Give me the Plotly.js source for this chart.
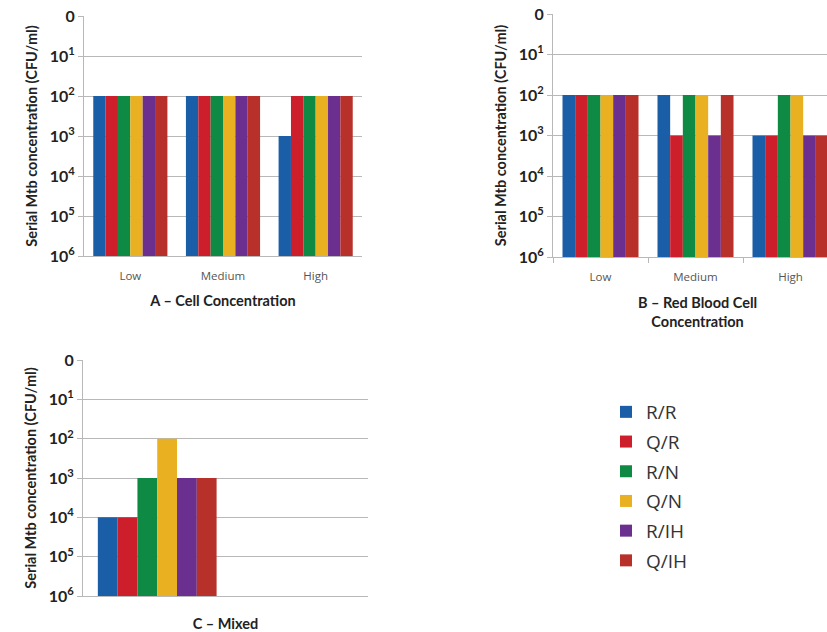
<!DOCTYPE html>
<html>
<head>
<meta charset="utf-8">
<script src="https://cdn.plot.ly/plotly-3.0.1.min.js"></script>
<style>html,body{margin:0;padding:0;background:#fff;}#chart{width:827px;height:632px;}</style>
</head>
<body>
<div id="chart"></div>
<script>
// Series names and colours
const seriesNames = ["R/R", "Q/R", "R/N", "Q/N", "R/IH", "Q/IH"];
const seriesColors = ["#1a5ea8", "#cc1f2b", "#0f8a44", "#e9b022", "#6a2f8f", "#b7302a"];

// Categories
const catsA = ["Low", "Medium", "High"];
const catsB = ["Low", "Medium", "High"];
const catsC = ["Mixed"];

// Values as log10 exponent (CFU/ml); per series, per category
const valsA = {
  "R/R":  [2, 2, 3],
  "Q/R":  [2, 2, 2],
  "R/N":  [2, 2, 2],
  "Q/N":  [2, 2, 2],
  "R/IH": [2, 2, 2],
  "Q/IH": [2, 2, 2]
};
const valsB = {
  "R/R":  [2, 2, 3],
  "Q/R":  [2, 3, 3],
  "R/N":  [2, 2, 2],
  "Q/N":  [2, 2, 2],
  "R/IH": [2, 3, 3],
  "Q/IH": [2, 2, 3]
};
const valsC = {
  "R/R":  [4],
  "Q/R":  [4],
  "R/N":  [3],
  "Q/N":  [2],
  "R/IH": [3],
  "Q/IH": [3]
};

// Y tick labels
const yTickVals = [0, 1, 2, 3, 4, 5, 6];
const yTickText = ["0", "10<sup>1</sup>", "10<sup>2</sup>", "10<sup>3</sup>", "10<sup>4</sup>", "10<sup>5</sup>", "10<sup>6</sup>"];
const BASE = 6;

const traces = [];
function addPanel(cats, vals, xa, ya, showLegend) {
  seriesNames.forEach((name, i) => {
    traces.push({
      type: "bar",
      name: name,
      x: cats,
      y: vals[name].map(v => v - BASE),
      base: BASE,
      xaxis: xa,
      yaxis: ya,
      marker: {color: seriesColors[i], line: {width: 0}},
      showlegend: showLegend,
      legendgroup: name,
      hoverinfo: "skip"
    });
  });
}
addPanel(catsA, valsA, "x", "y", true);
addPanel(catsB, valsB, "x2", "y2", false);
addPanel(catsC, valsC, "x3", "y3", false);

const W = 827, H = 632;
const px = v => v / W;
const py = v => 1 - v / H;

const tickFont = {family: "Lato, 'Open Sans', sans-serif", size: 16, color: "#222", weight: "bold"};
const yTitleFont = {family: "Lato, 'Open Sans', sans-serif", size: 14.5, color: "#222", weight: "bold"};
const xTitleFont = {family: "Lato, 'Open Sans', sans-serif", size: 14.5, color: "#222", weight: "bold"};
const catFont = {family: "'Open Sans', sans-serif", size: 11.5, color: "#555"};

function yAxis(top, bottom, anchor) {
  return {
    domain: [py(bottom), py(top)],
    anchor: anchor,
    range: [6, 0],
    tickvals: yTickVals,
    ticktext: yTickText,
    tickfont: tickFont,
    showgrid: true,
    gridcolor: "#b8b8b8",
    gridwidth: 1,
    zeroline: false,
    showline: true,
    linecolor: "#b8b8b8",
    ticks: "outside",
    ticklen: 5,
    tickcolor: "#b8b8b8",
    title: {text: "Serial Mtb concentration (CFU/ml)", font: yTitleFont, standoff: 8},
    fixedrange: true
  };
}

const layout = {
  width: W, height: H,
  margin: {l: 0, r: 0, t: 0, b: 0},
  paper_bgcolor: "#fff",
  plot_bgcolor: "#fff",
  barmode: "group",
  bargap: 0.2,
  bargroupgap: 0,
  showlegend: true,
  legend: {
    x: px(606), y: py(393), xanchor: "left", yanchor: "top",
    font: {family: "'Open Sans', sans-serif", size: 19, color: "#333"},
    traceorder: "grouped",
    tracegroupgap: 2,
    bgcolor: "rgba(0,0,0,0)"
  },
  xaxis: {
    domain: [px(84), px(362)], anchor: "y",
    type: "category",
    range: [-0.5, 2.5],
    tickfont: catFont,
    ticklabelstandoff: 9,
    showline: true, linecolor: "#b8b8b8",
    ticks: "", showgrid: false,
    title: {text: "A – Cell Concentration", font: xTitleFont, standoff: 14},
    fixedrange: true
  },
  yaxis: yAxis(16, 256, "x"),
  xaxis2: {
    domain: [px(553), 1], anchor: "y2",
    type: "category",
    range: [-0.5, -0.5 + 274 / 95],
    tickfont: catFont,
    ticklabelstandoff: 9,
    showline: true, linecolor: "#b8b8b8",
    ticks: "outside", tickson: "boundaries", ticklen: 5, tickcolor: "#b8b8b8",
    showgrid: false,
    fixedrange: true
  },
  yaxis2: yAxis(14, 257, "x2"),
  xaxis3: {
    domain: [px(83), px(368)], anchor: "y3",
    type: "category",
    range: [-0.5, 1.42],
    showticklabels: false,
    showline: true, linecolor: "#b8b8b8",
    ticks: "", showgrid: false,
    title: {text: "C – Mixed", font: xTitleFont, standoff: 22},
    fixedrange: true
  },
  yaxis3: yAxis(360, 596, "x3"),
  annotations: [
    {
      text: "B – Red Blood Cell<br>Concentration",
      xref: "paper", yref: "paper",
      x: px(697), y: py(292), xanchor: "center", yanchor: "top",
      showarrow: false, align: "center",
      font: xTitleFont
    }
  ]
};

Plotly.newPlot("chart", traces, layout, {staticPlot: true, displayModeBar: false});
</script>
</body>
</html>
